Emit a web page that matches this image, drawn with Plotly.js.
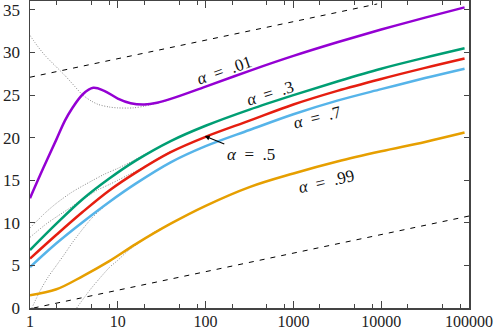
<!DOCTYPE html>
<html>
<head>
<meta charset="utf-8">
<script src="https://cdn.plot.ly/plotly-3.0.1.min.js"></script>
<style>html,body{margin:0;padding:0;background:#fff;}#chart{width:498px;height:332px;}</style>
</head>
<body>
<div id="chart"></div>
<script>
// ---- data ----
const xPurple = [1, 1.413, 2, 2.5, 3, 4, 5.25, 7, 10, 14, 20, 28, 40, 100, 316, 1000, 3162, 10000, 31623, 89000];
const alpha001 = [12.9, 16.4, 19.8, 22.0, 23.4, 25.1, 25.85, 25.5, 24.6, 24.05, 23.9, 24.1, 24.55, 26.0, 27.85, 29.6, 31.2, 32.7, 34.1, 35.3];

const xMain = [1, 2, 4, 8, 16, 40, 100, 316, 1000, 3162, 10000, 31623, 89000];
const alpha03  = [6.8, 9.9, 12.8, 15.2, 17.3, 19.6, 21.4, 23.3, 25.0, 26.6, 28.1, 29.4, 30.5];
const alpha05  = [5.8, 8.6, 11.3, 13.8, 15.9, 18.3, 20.1, 22.0, 23.9, 25.5, 26.9, 28.2, 29.3];
const alpha07  = [4.8, 7.6, 10.1, 12.45, 14.6, 17.1, 19.0, 20.9, 22.75, 24.35, 25.7, 27.0, 28.1];
const alpha099 = [1.5, 2.2, 3.75, 5.5, 7.5, 9.9, 12.0, 14.2, 15.8, 17.2, 18.4, 19.5, 20.6];

// asymptotic approximations (dotted grey)
const xAsymA = [1, 1.25, 1.5, 2, 2.5, 3, 4, 5, 6, 8, 10, 15, 20, 25, 30, 40];
const asymA  = [32.0, 30.6, 29.6, 28.3, 27.3, 26.4, 25.0, 24.3, 23.9, 23.6, 23.5, 23.5, 23.7, 23.95, 24.1, 24.55];
const xAsymB = [1, 1.5, 2, 3, 5, 7, 10, 15, 20, 30];
const asymB  = [9.4, 11.2, 12.3, 13.6, 14.9, 15.7, 16.4, 17.3, 18.0, 18.9];
const xAsymC = [1, 1.5, 2, 3, 3.5, 5, 6, 8, 10, 13, 17, 25, 40];
const asymC  = [8.3, 9.8, 10.7, 11.9, 12.4, 13.4, 13.9, 14.5, 15.0, 15.6, 16.2, 17.2, 18.4];
const xAsymD = [1.05, 1.3, 1.6, 2, 2.5, 3, 4, 5, 6, 7, 8, 10];
const asymD  = [0, 2.0, 3.6, 5.0, 6.4, 7.6, 9.3, 10.5, 11.3, 11.9, 12.4, 13.1];
const xAsymE = [3.4, 4.8, 6, 8.1, 10, 13, 18, 25, 30];
const asymE  = [0, 2.1, 3.3, 4.8, 5.6, 6.7, 7.75, 8.8, 9.3];

// bounding logarithmic lines (dashed)
const xUpper = [1, 9000];
const upper  = [27.1, 35.7];
const xLower = [1.1, 100000];
const lower  = [0.0, 10.8];

const xTicks = [1, 10, 100, 1000, 10000, 100000];
const xTickText = ['1', '10', '100', '1000', '10000', '100000'];
const xMinor = [2, 5, 8, 20, 50, 80, 200, 500, 800, 2000, 5000, 8000, 20000, 50000, 80000];
const yTicks = [0, 5, 10, 15, 20, 25, 30, 35];

const colors = {a001: '#9400d3', a03: '#009e73', a05: '#e51e10', a07: '#56b4e9', a099: '#e69f00'};

// ---- traces ----
const dotLine = {color: '#8a8a8a', width: 1, dash: '1px,1.6px'};
const dashLine = {color: '#000', width: 1, dash: '5px,6px'};
const traces = [];
[[xAsymA, asymA], [xAsymB, asymB], [xAsymC, asymC], [xAsymD, asymD], [xAsymE, asymE]].forEach(p => {
  traces.push({x: p[0], y: p[1], mode: 'lines', line: Object.assign({shape: 'spline', smoothing: 0.8}, dotLine), hoverinfo: 'skip'});
});
traces.push({x: xUpper, y: upper, mode: 'lines', line: dashLine});
traces.push({x: xLower, y: lower, mode: 'lines', line: dashLine});
[[xMain, alpha099, colors.a099], [xMain, alpha07, colors.a07], [xMain, alpha05, colors.a05], [xMain, alpha03, colors.a03], [xPurple, alpha001, colors.a001]].forEach(p => {
  traces.push({x: p[0], y: p[1], mode: 'lines', line: {color: p[2], width: 2.5, shape: 'spline', smoothing: 1}});
});

const lblFont = {family: 'Liberation Serif, DejaVu Serif, serif', size: 17, color: '#111'};
const sp = '\u2002';
function lab(t){ return '<i>α</i>' + sp + '=' + sp + t; }

const axisCommon = {
  showline: true, linecolor: '#444', linewidth: 1.5, mirror: 'allticks',
  ticks: 'inside', tickcolor: '#444', tickwidth: 1,
  showgrid: false, zeroline: false
};

const layout = {
  width: 498, height: 332,
  margin: {l: 30, r: 29, t: 1, b: 24, pad: 0},
  paper_bgcolor: '#fff', plot_bgcolor: '#fff',
  showlegend: false,
  xaxis: Object.assign({}, axisCommon, {
    type: 'log', range: [0, 5], tickmode: 'array', tickvals: xTicks, ticktext: xTickText, ticklen: 7,
    ticklabelstandoff: -2,
    tickfont: {family: 'Liberation Serif, DejaVu Serif, serif', size: 16, color: '#222'},
    minor: {tickmode: 'array', tickvals: xMinor, ticks: 'inside', ticklen: 4, tickcolor: '#444', tickwidth: 1, showgrid: false}
  }),
  yaxis: Object.assign({}, axisCommon, {
    range: [0, 36.05], tickmode: 'array', tickvals: yTicks, ticklen: 5,
    ticklabelstandoff: 5,
    tickfont: {family: 'Liberation Serif, DejaVu Serif, serif', size: 17, color: '#222'}
  }),
  annotations: [
    {x: 2.21, y: 27.9, xref: 'x', yref: 'y', text: lab('.01'), showarrow: false, textangle: -19, font: lblFont},
    {x: 2.73, y: 25.2, xref: 'x', yref: 'y', text: lab('.3'), showarrow: false, textangle: -17, font: lblFont},
    {x: 3.27, y: 22.4, xref: 'x', yref: 'y', text: lab('.7'), showarrow: false, textangle: -14, font: lblFont},
    {x: 3.38, y: 14.9, xref: 'x', yref: 'y', text: lab('.99'), showarrow: false, textangle: -13, font: lblFont},
    {x: 1.99, y: 20.2, xref: 'x', yref: 'y', text: lab('.5'), showarrow: true, arrowhead: 2, arrowsize: 0.9, arrowwidth: 1.1, arrowcolor: '#000', ax: 46, ay: 19, standoff: 0, startstandoff: 1, font: lblFont}
  ]
};

Plotly.newPlot('chart', traces, layout, {staticPlot: true, displayModeBar: false});
</script>
</body>
</html>
